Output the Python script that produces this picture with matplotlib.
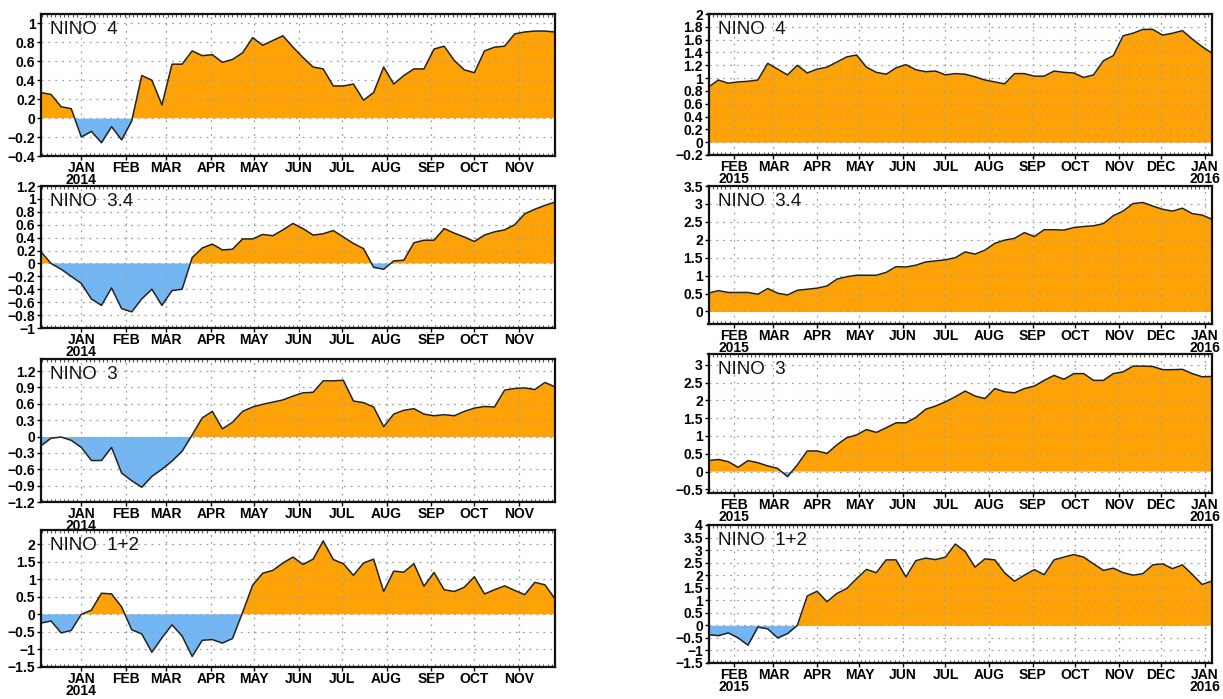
import numpy as np
import pandas as pd
import matplotlib
matplotlib.use("Agg")
import matplotlib.pyplot as plt
import matplotlib.dates as mdates
from matplotlib.ticker import FixedLocator, FuncFormatter

# weekly SST anomalies (degC), 52 weeks per column
weeks_2014 = pd.date_range("2013-12-04", periods=52, freq="7D")
weeks_2015 = pd.date_range("2015-01-14", periods=52, freq="7D")

nino4_2014 = [0.27, 0.25, 0.12, 0.10, -0.20, -0.14, -0.26, -0.09, -0.23, -0.03,
              0.45, 0.40, 0.14, 0.57, 0.57, 0.71, 0.66, 0.67, 0.59, 0.62,
              0.69, 0.85, 0.77, 0.82, 0.87, 0.75, 0.64, 0.54, 0.52, 0.34,
              0.34, 0.36, 0.19, 0.27, 0.54, 0.36, 0.45, 0.52, 0.52, 0.73,
              0.76, 0.61, 0.51, 0.48, 0.71, 0.75, 0.76, 0.89, 0.91, 0.92,
              0.92, 0.91]
nino34_2014 = [0.18, 0.00, -0.09, -0.20, -0.31, -0.55, -0.65, -0.38, -0.70, -0.75,
               -0.55, -0.40, -0.65, -0.42, -0.40, 0.09, 0.24, 0.30, 0.21, 0.22,
               0.38, 0.38, 0.45, 0.43, 0.52, 0.62, 0.54, 0.44, 0.46, 0.51,
               0.41, 0.31, 0.23, -0.06, -0.09, 0.04, 0.05, 0.32, 0.36, 0.36,
               0.54, 0.47, 0.41, 0.34, 0.44, 0.49, 0.52, 0.60, 0.77, 0.84,
               0.90, 0.95]
nino3_2014 = [-0.17, -0.03, -0.01, -0.07, -0.20, -0.44, -0.44, -0.20, -0.67, -0.81,
              -0.93, -0.73, -0.60, -0.45, -0.27, 0.03, 0.34, 0.46, 0.14, 0.26,
              0.46, 0.54, 0.59, 0.63, 0.67, 0.74, 0.80, 0.81, 1.02, 1.02,
              1.03, 0.65, 0.62, 0.54, 0.18, 0.41, 0.48, 0.51, 0.41, 0.38,
              0.40, 0.38, 0.46, 0.52, 0.55, 0.54, 0.85, 0.88, 0.89, 0.86,
              0.99, 0.91]
nino12_2014 = [-0.25, -0.19, -0.53, -0.46, 0.00, 0.12, 0.60, 0.58, 0.21, -0.44,
               -0.56, -1.08, -0.67, -0.30, -0.62, -1.20, -0.74, -0.72, -0.82, -0.69,
               0.05, 0.83, 1.17, 1.25, 1.46, 1.63, 1.42, 1.57, 2.09, 1.56,
               1.44, 1.11, 1.46, 1.57, 0.65, 1.23, 1.20, 1.44, 0.80, 1.19,
               0.70, 0.65, 0.77, 1.07, 0.58, 0.70, 0.81, 0.68, 0.56, 0.91,
               0.84, 0.44]

nino4_2015 = [0.86, 0.97, 0.92, 0.94, 0.95, 0.97, 1.23, 1.14, 1.05, 1.20,
              1.08, 1.14, 1.17, 1.25, 1.33, 1.36, 1.17, 1.09, 1.06, 1.16,
              1.21, 1.13, 1.10, 1.11, 1.05, 1.07, 1.06, 1.02, 0.97, 0.94,
              0.91, 1.07, 1.07, 1.03, 1.03, 1.11, 1.09, 1.08, 1.01, 1.05,
              1.27, 1.35, 1.66, 1.70, 1.76, 1.76, 1.67, 1.70, 1.74, 1.61,
              1.49, 1.39]
nino34_2015 = [0.51, 0.58, 0.53, 0.53, 0.53, 0.48, 0.64, 0.51, 0.46, 0.59,
               0.62, 0.65, 0.71, 0.90, 0.97, 1.01, 1.01, 1.01, 1.09, 1.25,
               1.24, 1.29, 1.38, 1.41, 1.44, 1.50, 1.66, 1.60, 1.71, 1.90,
               1.99, 2.04, 2.20, 2.09, 2.28, 2.28, 2.27, 2.34, 2.37, 2.39,
               2.45, 2.67, 2.80, 3.01, 3.04, 2.94, 2.85, 2.80, 2.88, 2.73,
               2.69, 2.57]
nino3_2015 = [0.31, 0.34, 0.28, 0.12, 0.31, 0.25, 0.16, 0.09, -0.14, 0.19,
              0.58, 0.58, 0.51, 0.75, 0.95, 1.03, 1.18, 1.10, 1.23, 1.37,
              1.37, 1.52, 1.75, 1.84, 1.96, 2.10, 2.26, 2.12, 2.05, 2.33,
              2.24, 2.21, 2.33, 2.40, 2.56, 2.70, 2.59, 2.75, 2.75, 2.56,
              2.56, 2.75, 2.80, 2.96, 2.96, 2.95, 2.86, 2.86, 2.87, 2.75,
              2.66, 2.67]
nino12_2015 = [-0.37, -0.41, -0.30, -0.50, -0.79, -0.07, -0.14, -0.50, -0.33, 0.00,
               1.17, 1.36, 0.94, 1.27, 1.47, 1.86, 2.23, 2.10, 2.61, 2.61,
               1.93, 2.58, 2.68, 2.62, 2.72, 3.24, 2.94, 2.32, 2.65, 2.61,
               2.09, 1.76, 2.00, 2.22, 2.02, 2.61, 2.72, 2.82, 2.72, 2.45,
               2.19, 2.28, 2.10, 2.00, 2.06, 2.41, 2.45, 2.26, 2.41, 2.03,
               1.63, 1.77]

region_names = ["NINO  4", "NINO  3.4", "NINO  3", "NINO  1+2"]
left_series = [nino4_2014, nino34_2014, nino3_2014, nino12_2014]
right_series = [nino4_2015, nino34_2015, nino3_2015, nino12_2015]

# y tick values and limits for each panel
left_yticks = [np.arange(-0.4, 1.01, 0.2), np.arange(-1.0, 1.21, 0.2),
               np.arange(-1.2, 1.21, 0.3), np.arange(-1.5, 2.01, 0.5)]
left_ylims = [(-0.4, 1.1), (-1.0, 1.2), (-1.2, 1.42), (-1.5, 2.4)]
right_yticks = [np.arange(-0.2, 2.01, 0.2), np.arange(0, 3.51, 0.5),
                np.arange(-0.5, 3.01, 0.5), np.arange(-1.5, 4.01, 0.5)]
right_ylims = [(-0.2, 2.0), (-0.35, 3.5), (-0.6, 3.3), (-1.5, 4.0)]

# panel boxes in pixels (top, bottom)
W, H = 1223, 699
left_rows = [(14, 156), (186, 328), (359, 502), (530, 667)]
right_rows = [(14, 155), (186, 324), (354, 493), (525, 663)]
left_x = (41, 555)
right_x = (708.5, 1212)

ORANGE = "#FFA206"
BLUE = "#72B6F4"
GRID = "#a0a0a0"
tick_font = ["Liberation Sans", "DejaVu Sans"]


def fmt_y(v, pos):
    s = "%g" % (round(v, 2) + 0.0)
    return s.replace("-", "\u2212")


def month_label(d, year_months):
    lab = d.strftime("%b").upper()
    if (d.year, d.month) in year_months:
        lab += "\n%d" % d.year
    return lab


def draw_panel(fig, box, rows, dates, values, name, yticks, ylim, year_months):
    top, bot = rows
    x0, x1 = box
    ax = fig.add_axes([x0 / W, 1 - bot / H, (x1 - x0) / W, (bot - top) / H])
    y = np.array(values)
    ax.fill_between(dates, 0, y, where=y >= 0, interpolate=True,
                    color=ORANGE, lw=0, zorder=1)
    ax.fill_between(dates, 0, y, where=y <= 0, interpolate=True,
                    color=BLUE, lw=0, zorder=1)
    ax.plot(dates, y, color="#222222", lw=1.1, zorder=3)

    ax.set_xlim(dates[0], dates[-1])
    ax.set_ylim(*ylim)

    months = pd.date_range(dates[0].replace(day=1) + pd.offsets.MonthBegin(1),
                           dates[-1], freq="MS")
    ax.xaxis.set_major_locator(FixedLocator(mdates.date2num(months)))
    ax.set_xticklabels([month_label(m, year_months) for m in months],
                       fontfamily=tick_font, fontweight="bold", fontsize=10,
                       linespacing=0.85)
    ax.xaxis.set_minor_locator(mdates.DayLocator(interval=3))
    ax.yaxis.set_major_locator(FixedLocator(yticks))
    ax.yaxis.set_major_formatter(FuncFormatter(fmt_y))
    for lab in ax.get_yticklabels():
        lab.set_fontfamily(tick_font)
        lab.set_fontweight("bold")
        lab.set_fontsize(10)

    ax.tick_params(axis="x", which="major", direction="out", length=3,
                   width=1, pad=0.5)
    ax.tick_params(axis="x", which="minor", direction="in", length=2.5,
                   width=0.8, top=True, color="#555555")
    ax.tick_params(axis="y", direction="out", length=3, width=1, pad=1)

    ax.grid(True, which="major", color=GRID, lw=0.9,
            linestyle=(0, (1.5, 4)), zorder=2)
    ax.set_axisbelow(False)
    for sp in ax.spines.values():
        sp.set_linewidth(1.6)
        sp.set_color("#111111")
        sp.set_zorder(4)

    ax.text(0.018, 0.95, name, transform=ax.transAxes, ha="left", va="top",
            fontsize=13.5, family=["Liberation Sans", "DejaVu Sans"],
            color="#111111", zorder=5)
    return ax


fig = plt.figure(figsize=(W / 100, H / 100), dpi=100)
fig.patch.set_facecolor("white")

for i in range(4):
    draw_panel(fig, left_x, left_rows[i], weeks_2014, left_series[i],
               region_names[i], left_yticks[i], left_ylims[i], {(2014, 1)})
    draw_panel(fig, right_x, right_rows[i], weeks_2015, right_series[i],
               region_names[i], right_yticks[i], right_ylims[i],
               {(2015, 2), (2016, 1)})

fig.savefig("out.png", dpi=100)
